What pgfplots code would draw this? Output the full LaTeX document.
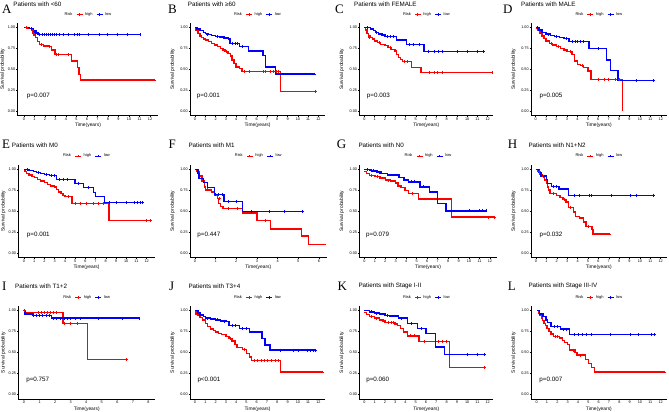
\documentclass[border=0pt]{standalone}
\usepackage{fontspec}
\setmainfont{Liberation Sans}
\newfontfamily\letterfont{Liberation Serif}
\usepackage{pgfplots}
\pgfplotsset{compat=1.18}
\pgfplotsset{
 kmy/.style={every axis y label/.style={at={(rel axis cs:0,0.5)}, xshift=#1, rotate=90, anchor=center, font=\fontsize{4.9}{5}\selectfont}},
 km/.style={
  scale only axis, height=92.5bp, ymin=-0.05, ymax=1.05, anchor=south west,
  axis x line*=bottom, axis y line*=left,
  axis line style={-, line width=0.55bp, black},
  ytick={0,0.25,0.5,0.75,1}, yticklabels={0.00,0.25,0.50,0.75,1.00},
  tick style={black, line width=0.45bp}, major tick length=1.5bp, tick align=outside,
  ticklabel style={font=\fontsize{3.8}{4}\selectfont, inner sep=0.6bp},
  /pgf/number format/assume math mode=true,
  xlabel={Time(years)}, ylabel={Survival probability},
  every axis x label/.style={at={(rel axis cs:0.5,0)}, anchor=center, yshift=-10bp, font=\fontsize{4.9}{5}\selectfont},
  kmy=-17.5bp,
  legend style={at={(0.5,1)}, anchor=center, yshift=8.8bp, draw=none, fill=none,
    font=\fontsize{4}{4}\selectfont, legend columns=-1, inner sep=0pt,
    /tikz/every even column/.append style={column sep=1.6bp}},
  legend image code/.code={\draw[mark repeat=2,mark phase=2,##1] plot coordinates {(0bp,0bp) (3bp,0bp) (6bp,0bp)};},
  clip=false,
 },
 hi/.style={red, line width=1.4bp, const plot, mark=none, forget plot},
 lo/.style={blue, line width=1.4bp, const plot, mark=none, forget plot},
 hic/.style={red, only marks, mark=+, mark size=1.4bp, mark options={line width=0.6bp}, forget plot},
 loc/.style={blue, only marks, mark=+, mark size=1.4bp, mark options={line width=0.6bp}, forget plot},
}
\newcommand{\kmlegend}{%
 \addlegendimage{empty legend}\addlegendentry{Risk}
 \addlegendimage{red,line width=1.1bp,mark=+,mark size=1.3bp}\addlegendentry{high}
 \addlegendimage{blue,line width=1.1bp,mark=+,mark size=1.3bp}\addlegendentry{low}}
\newcommand{\pval}[3]{\node[anchor=west, inner sep=0pt, font=\fontsize{6.3}{7}\selectfont] at (axis cs:#1,#2) {#3};}
\newcommand{\ttl}[3]{\node[anchor=west, inner sep=0pt, font=\fontsize{6.3}{7}\selectfont] at (#1bp,#2bp) {#3};}
\newcommand{\lett}[3]{\node[anchor=base west, inner sep=0pt, font=\letterfont\fontsize{13}{13}\selectfont] at (#1bp,#2bp) {#3};}
\begin{document}
\begin{tikzpicture}
\useasboundingbox (0bp,0bp) rectangle (669bp,412bp);
\lett{2}{398.5}{A}\ttl{13.3}{407.5}{Patients with <60}
\lett{168}{398.5}{B}\ttl{187.7}{407.5}{Patients with ≥60}
\lett{335}{398.5}{C}\ttl{354}{407.5}{Patients with FEMALE}
\lett{503}{398.5}{D}\ttl{521}{407.5}{Patients with MALE}
\lett{2}{263.5}{E}\ttl{11.7}{267}{Patients with M0}
\lett{168.3}{263.5}{F}\ttl{188.3}{267}{Patients with M1}
\lett{336.7}{263.5}{G}\ttl{358.3}{267}{Patients with N0}
\lett{507.7}{263.5}{H}\ttl{528.3}{267}{Patients with N1+N2}
\lett{2}{121.5}{I}\ttl{15}{126}{Patients with T1+2}
\lett{169}{121.5}{J}\ttl{188.3}{126}{Patients with T3+4}
\lett{337.3}{121.5}{K}\ttl{358.3}{126}{Patients with Stage I-II}
\lett{507.7}{121.5}{L}\ttl{528.3}{126}{Patients with Stage III-IV}

% A
\begin{axis}[km, kmy=-15bp, at={(17.5bp,296.3bp)}, width=140.9bp, xmin=-0.62, xmax=12.8, xtick={0,...,12}]
\kmlegend
\addplot[hi] coordinates {(0,1)(0.35,0.985)(0.7,0.965)(0.85,0.935)(0.95,0.91)(1.1,0.88)(1.3,0.83)(1.45,0.80)(1.85,0.78)(2.3,0.77)(2.6,0.73)(2.95,0.68)(4.55,0.60)(5.08,0.52)(5.22,0.44)(5.37,0.375)(12.4,0.375)};
\addplot[lo] coordinates {(0,1)(0.55,0.985)(0.9,0.955)(1.15,0.935)(1.35,0.915)(11.05,0.915)};
\addplot[hic] coordinates {(0.2,1)(0.8,0.965)(1.05,0.91)(1.6,0.80)(2.1,0.78)(2.4,0.77)(3.1,0.68)(3.3,0.68)(4.2,0.68)(5.8,0.375)(6.1,0.375)(6.6,0.375)(6.9,0.375)(7.1,0.375)(12.4,0.375)};
\addplot[loc] coordinates {(0.7,0.985)(1.0,0.955)(1.5,0.915)(1.7,0.915)(1.9,0.915)(2.1,0.915)(2.3,0.915)(2.5,0.915)(2.7,0.915)(2.9,0.915)(3.1,0.915)(3.4,0.915)(3.7,0.915)(4.2,0.915)(4.8,0.915)(5.1,0.915)(5.3,0.915)(6.1,0.915)(7.2,0.915)(7.9,0.915)(8.9,0.915)(9.8,0.915)(11.05,0.915)};
\pval{0.26}{0.19}{p=0.007}
\end{axis}
% B
\begin{axis}[km, at={(190bp,296.3bp)}, width=135.1bp, xmin=-0.49, xmax=12.65, xtick={0,...,12}]
\kmlegend
\addplot[hi] coordinates {(0,0.985)(0.1,0.96)(0.3,0.93)(0.5,0.90)(0.65,0.88)(0.8,0.86)(1.0,0.85)(1.3,0.83)(1.6,0.81)(1.9,0.79)(2.2,0.77)(2.5,0.75)(2.7,0.73)(2.9,0.71)(3.2,0.69)(3.45,0.66)(3.6,0.61)(3.8,0.57)(4.0,0.53)(4.3,0.51)(4.55,0.475)(8.3,0.24)(11.7,0.24)};
\addplot[lo] coordinates {(0,1)(0.2,0.98)(0.5,0.96)(0.8,0.94)(1.0,0.925)(1.3,0.915)(1.6,0.905)(2.0,0.895)(2.4,0.885)(2.8,0.875)(3.1,0.865)(3.4,0.81)(4.3,0.77)(5.2,0.72)(6.6,0.665)(6.85,0.53)(7.85,0.445)(11.6,0.445)};
\addplot[hic] coordinates {(1.2,0.85)(2.0,0.79)(3.0,0.71)(4.8,0.475)(5.3,0.475)(6.6,0.475)(6.8,0.475)(7.3,0.475)(7.6,0.475)(7.9,0.475)(8.1,0.475)(11.7,0.24)};
\addplot[loc] coordinates {(1.2,0.915)(2.2,0.895)(2.6,0.885)(3.2,0.865)(3.6,0.81)(3.9,0.81)(4.1,0.81)(4.6,0.77)(5.6,0.72)(6.3,0.72)(7.5,0.53)(10,0.445)(10.8,0.445)(11.2,0.445)(11.6,0.445)};
\pval{0.16}{0.19}{p=0.001}
\end{axis}
% C
\begin{axis}[km, at={(359.3bp,296.3bp)}, width=134.05bp, xmin=-0.49, xmax=12.55, xtick={0,...,12}]
\kmlegend
\addplot[hi] coordinates {(0,1)(0.1,0.97)(0.25,0.93)(0.4,0.90)(0.55,0.88)(0.8,0.86)(1.0,0.84)(1.3,0.82)(1.6,0.80)(2.0,0.785)(2.3,0.76)(2.6,0.74)(3.0,0.72)(3.1,0.68)(3.3,0.64)(3.5,0.62)(3.7,0.595)(4.6,0.525)(5.5,0.465)(12.4,0.465)};
\addplot[lo] coordinates {(0,1)(0.6,0.98)(0.9,0.96)(1.1,0.94)(1.4,0.92)(1.7,0.91)(2.0,0.895)(3.1,0.85)(4.1,0.80)(5.8,0.715)(11.6,0.715)};
\addplot[hic] coordinates {(0.5,0.88)(1.5,0.82)(2.5,0.76)(3.9,0.595)(4.2,0.595)(6.3,0.465)(6.8,0.465)(7.1,0.465)(7.6,0.465)(12.4,0.465)};
\addplot[loc] coordinates {(0.3,1)(1.2,0.94)(2.2,0.895)(2.5,0.895)(2.8,0.895)(3.4,0.85)(3.7,0.85)(4.4,0.80)(4.8,0.80)(5.3,0.80)(6.2,0.715)(6.8,0.715)(7.2,0.715)(7.6,0.715)(9,0.715)(10,0.715)(11,0.715)(11.6,0.715)};
\pval{0.23}{0.19}{p=0.003}
\end{axis}
% D
\begin{axis}[km, at={(531bp,296.3bp)}, width=135.7bp, xmin=-0.45, xmax=12.57, xtick={0,...,12}]
\kmlegend
\addplot[hi] coordinates {(0,0.985)(0.2,0.96)(0.4,0.93)(0.6,0.90)(0.8,0.87)(1.0,0.84)(1.3,0.81)(1.6,0.79)(2.0,0.77)(2.4,0.75)(2.7,0.73)(3.0,0.71)(3.5,0.68)(3.7,0.60)(4.0,0.56)(4.3,0.545)(4.6,0.52)(5.0,0.48)(5.3,0.38)(8.3,0)};
\addplot[lo] coordinates {(0,1)(0.3,0.97)(0.6,0.94)(1.0,0.92)(1.4,0.905)(1.8,0.895)(2.3,0.88)(2.7,0.87)(3.2,0.83)(5.1,0.75)(6.8,0.61)(7.2,0.49)(7.9,0.37)(11.3,0.37)};
\addplot[hic] coordinates {(1.5,0.81)(2.2,0.77)(3.3,0.71)(4.5,0.545)(6.0,0.38)(6.6,0.38)(7.0,0.38)(7.6,0.38)(8.0,0.38)};
\addplot[loc] coordinates {(0.2,1)(1.2,0.92)(2.0,0.895)(2.9,0.87)(3.5,0.83)(3.8,0.83)(4.0,0.83)(4.3,0.83)(4.6,0.83)(6.0,0.75)(9.7,0.37)(11.3,0.37)};
\pval{0.35}{0.19}{p=0.005}
\end{axis}
% E
\begin{axis}[km, kmy=-15bp, at={(18.3bp,154.5bp)}, width=136.5bp, xmin=-0.56, xmax=12.8, xtick={0,...,12}]
\kmlegend
\addplot[hi] coordinates {(0,1)(0.1,0.97)(0.25,0.95)(0.5,0.93)(0.8,0.91)(1.0,0.90)(1.3,0.88)(1.6,0.86)(2.0,0.84)(2.3,0.82)(2.6,0.80)(3.0,0.79)(3.2,0.76)(3.4,0.73)(3.6,0.71)(3.8,0.69)(4.0,0.675)(4.7,0.595)(8.3,0.39)(12.4,0.39)};
\addplot[lo] coordinates {(0,1)(0.5,0.985)(0.9,0.97)(1.2,0.96)(1.6,0.95)(2.0,0.935)(2.5,0.925)(3.2,0.875)(5.0,0.83)(5.8,0.78)(6.8,0.72)(7.0,0.675)(7.9,0.605)(11.6,0.605)};
\addplot[hic] coordinates {(0.6,0.93)(1.8,0.86)(2.8,0.80)(4.3,0.675)(5.0,0.595)(5.5,0.595)(6.1,0.595)(6.8,0.595)(7.3,0.595)(7.8,0.595)(12,0.39)(12.4,0.39)};
\addplot[loc] coordinates {(0.3,1)(1.4,0.96)(2.2,0.935)(2.7,0.925)(3.0,0.925)(3.5,0.875)(3.8,0.875)(4.2,0.875)(5.3,0.83)(6.3,0.78)(8.3,0.605)(9.0,0.605)(10,0.605)(10.8,0.605)(11.1,0.605)(11.4,0.605)(11.6,0.605)};
\pval{0.26}{0.22}{p=0.001}
\end{axis}
% F
\begin{axis}[km, at={(190bp,154.5bp)}, width=136.6bp, xmin=-0.24, xmax=6.37, xtick={0,...,6}]
\kmlegend
\addplot[hi] coordinates {(0,1)(0.1,0.97)(0.2,0.92)(0.35,0.86)(0.45,0.79)(0.5,0.755)(0.8,0.73)(0.95,0.69)(1.1,0.65)(1.15,0.59)(1.25,0.56)(1.35,0.535)(2.3,0.48)(3.0,0.39)(3.65,0.29)(5.15,0.205)(5.5,0.105)(6.35,0.105)};
\addplot[lo] coordinates {(0,1)(0.15,0.95)(0.2,0.89)(0.4,0.84)(0.6,0.78)(0.95,0.70)(1.4,0.615)(2.3,0.495)(5.2,0.495)};
\addplot[hic] coordinates {(0.3,0.92)(0.6,0.755)(1.2,0.65)(1.6,0.535)(2.05,0.535)(3.4,0.39)};
\addplot[loc] coordinates {(1.0,0.70)(1.15,0.70)(1.3,0.70)(1.6,0.615)(2.0,0.615)(2.75,0.495)(3.6,0.495)(4.3,0.495)(5.2,0.495)};
\pval{0.11}{0.22}{p=0.447}
\end{axis}
% G
\begin{axis}[km, at={(359.3bp,154.5bp)}, width=137.5bp, xmin=-0.48, xmax=12.65, xtick={0,...,12}]
\kmlegend
\addplot[hi] coordinates {(0,0.975)(0.2,0.95)(0.5,0.925)(1.0,0.91)(1.5,0.895)(2.0,0.87)(2.5,0.86)(3.0,0.835)(3.2,0.80)(3.5,0.78)(3.9,0.745)(4.2,0.71)(5.2,0.645)(8.3,0.43)(12.4,0.43)};
\addplot[lo] coordinates {(0,1)(0.5,0.99)(0.7,0.98)(1.2,0.965)(1.6,0.95)(2.2,0.93)(3.3,0.90)(3.8,0.87)(4.2,0.85)(5.3,0.79)(6.2,0.73)(7.0,0.59)(7.8,0.505)(11.6,0.505)};
\addplot[hic] coordinates {(0.7,0.925)(1.2,0.91)(2.3,0.87)(3.3,0.80)(4.6,0.71)(5.7,0.645)(6.3,0.645)(6.8,0.645)(7.5,0.645)(7.8,0.645)(8.1,0.645)(11.8,0.43)(12.4,0.43)};
\addplot[loc] coordinates {(0.3,1)(0.9,0.98)(1.4,0.965)(2.5,0.93)(2.8,0.93)(3.0,0.93)(3.1,0.93)(4.5,0.85)(4.8,0.85)(5.6,0.79)(6.5,0.73)(10,0.505)(11,0.505)(11.3,0.505)(11.6,0.505)};
\pval{0.16}{0.22}{p=0.079}
\end{axis}
% H
\begin{axis}[km, at={(531bp,154.5bp)}, width=135.7bp, xmin=-0.48, xmax=12.58, xtick={0,...,12}]
\kmlegend
\addplot[hi] coordinates {(0,1)(0.2,0.97)(0.4,0.94)(0.6,0.91)(0.8,0.87)(1.0,0.83)(1.1,0.79)(1.2,0.755)(1.35,0.71)(2.0,0.69)(2.3,0.665)(2.6,0.64)(2.9,0.61)(3.1,0.545)(3.6,0.49)(3.8,0.44)(4.2,0.42)(4.6,0.37)(4.8,0.32)(5.4,0.28)(5.5,0.23)(7.1,0.23)};
\addplot[lo] coordinates {(0,1)(0.3,0.96)(0.5,0.92)(1.0,0.88)(1.1,0.83)(1.5,0.795)(2.2,0.765)(3.15,0.69)(11.3,0.69)};
\addplot[hic] coordinates {(0.3,0.97)(0.7,0.91)(1.7,0.71)(2.7,0.64)(3.3,0.545)(5.0,0.32)(6.3,0.23)(6.7,0.23)(7.1,0.23)};
\addplot[loc] coordinates {(0.8,0.92)(1.7,0.795)(2.0,0.795)(2.5,0.765)(2.9,0.765)(3.7,0.69)(4.2,0.69)(5.1,0.69)(5.3,0.69)(7.2,0.69)(9.1,0.69)(9.7,0.69)(11.3,0.69)};
\pval{0.32}{0.22}{p=0.032}
\end{axis}
% I
\begin{axis}[km, kmy=-15bp, at={(18.3bp,13.1bp)}, width=136.8bp, xmin=-0.37, xmax=8.43, xtick={0,...,8}]
\kmlegend
\addplot[hi] coordinates {(0,1)(0.05,0.975)(2.5,0.85)(4.1,0.42)(6.6,0.42)};
\addplot[lo] coordinates {(0,1)(0.05,0.96)(0.6,0.945)(1.75,0.91)(7.4,0.91)};
\addplot[hic] coordinates {(0.02,1)(0.9,0.975)(1.1,0.975)(1.3,0.975)(1.5,0.975)(1.7,0.975)(1.9,0.975)(2.1,0.975)(2.6,0.85)(3.0,0.85)(3.4,0.85)(6.6,0.42)};
\addplot[loc] coordinates {(0.6,0.945)(0.8,0.945)(1.0,0.945)(1.2,0.945)(1.4,0.945)(1.6,0.945)(1.9,0.91)(2.1,0.91)(2.3,0.91)(2.6,0.91)(2.8,0.91)(3.0,0.91)(3.3,0.91)(3.6,0.91)(4.8,0.91)(6.3,0.91)(7.4,0.91)};
\pval{0.13}{0.18}{p=0.757}
\end{axis}
% J
\begin{axis}[km, at={(190bp,13.1bp)}, width=135.1bp, xmin=-0.49, xmax=12.65, xtick={0,...,12}]
\kmlegend
\addplot[hi] coordinates {(0,0.985)(0.1,0.96)(0.3,0.94)(0.5,0.92)(0.7,0.89)(1.0,0.85)(1.2,0.81)(1.5,0.78)(1.8,0.76)(2.0,0.745)(2.3,0.73)(2.6,0.715)(3.0,0.69)(3.3,0.67)(3.6,0.64)(3.9,0.60)(4.1,0.56)(4.6,0.54)(5.0,0.49)(5.3,0.45)(5.5,0.405)(8.3,0.27)(12.4,0.27)};
\addplot[lo] coordinates {(0,1)(0.3,0.97)(0.5,0.95)(0.8,0.93)(1.0,0.91)(1.5,0.90)(2.0,0.89)(2.5,0.875)(3.0,0.87)(3.3,0.82)(4.3,0.79)(5.3,0.745)(6.5,0.67)(6.8,0.59)(7.3,0.53)(11.7,0.53)};
\addplot[hic] coordinates {(3.4,0.67)(4.8,0.54)(5.8,0.405)(6.1,0.405)(6.4,0.405)(6.7,0.405)(7.0,0.405)(7.4,0.405)(7.8,0.405)(8.1,0.405)(12,0.27)(12.4,0.27)};
\addplot[loc] coordinates {(1.2,0.91)(2.2,0.89)(2.8,0.875)(3.6,0.82)(3.9,0.82)(4.6,0.79)(5.0,0.79)(5.6,0.745)(8.3,0.53)(9.6,0.53)(10.0,0.53)(10.9,0.53)(11.2,0.53)(11.5,0.53)(11.7,0.53)};
\pval{0.22}{0.18}{p<0.001}
\end{axis}
% K
\begin{axis}[km, at={(359.3bp,13.1bp)}, width=134.05bp, xmin=-0.49, xmax=12.55, xtick={0,...,12}]
\kmlegend
\addplot[hi] coordinates {(0,0.975)(0.2,0.955)(0.5,0.93)(1.0,0.91)(1.5,0.89)(1.8,0.875)(2.0,0.86)(3.0,0.84)(3.2,0.82)(3.5,0.79)(3.8,0.745)(4.2,0.70)(5.3,0.635)(8.3,0.325)(11.7,0.325)};
\addplot[lo] coordinates {(0,1)(0.5,0.985)(1.0,0.97)(1.5,0.96)(2.0,0.945)(2.5,0.935)(3.3,0.91)(4.2,0.85)(5.2,0.79)(6.0,0.73)(6.9,0.565)(7.8,0.475)(11.7,0.475)};
\addplot[hic] coordinates {(0.7,0.93)(1.2,0.91)(2.3,0.86)(2.6,0.86)(2.8,0.86)(4.5,0.70)(4.9,0.70)(5.8,0.635)(7.2,0.635)(7.6,0.635)(8.0,0.635)(11.7,0.325)};
\addplot[loc] coordinates {(0.7,0.985)(1.2,0.97)(1.7,0.96)(2.2,0.945)(2.7,0.935)(3.0,0.935)(3.6,0.91)(4.6,0.85)(5.5,0.79)(10,0.475)(11,0.475)(11.7,0.475)};
\pval{0.17}{0.18}{p=0.060}
\end{axis}
% L
\begin{axis}[km, at={(531bp,13.1bp)}, width=135.8bp, xmin=-0.55, xmax=12.6, xtick={0,...,12}]
\kmlegend
\addplot[hi] coordinates {(0,1)(0.15,0.97)(0.3,0.95)(0.45,0.91)(0.55,0.88)(0.7,0.85)(0.85,0.82)(1.0,0.79)(1.2,0.755)(1.4,0.72)(1.6,0.695)(2.2,0.675)(2.5,0.645)(2.7,0.62)(3.0,0.595)(3.2,0.53)(3.7,0.505)(3.9,0.47)(4.7,0.42)(5.0,0.37)(5.3,0.32)(5.6,0.27)(12.4,0.27)};
\addplot[lo] coordinates {(0,1)(0.3,0.96)(0.6,0.93)(0.9,0.89)(1.05,0.86)(1.4,0.81)(2.3,0.78)(3.15,0.715)(11.4,0.715)};
\addplot[hic] coordinates {(1.8,0.695)(2.0,0.695)(3.5,0.53)(4.2,0.47)(6.1,0.27)(6.9,0.27)(7.1,0.27)(12.4,0.27)};
\addplot[loc] coordinates {(0.4,0.96)(1.7,0.81)(2.0,0.81)(2.6,0.78)(2.9,0.78)(3.6,0.715)(4.0,0.715)(4.4,0.715)(4.8,0.715)(5.3,0.715)(7.1,0.715)(9.1,0.715)(9.8,0.715)(11.1,0.715)(11.4,0.715)};
\pval{0.25}{0.18}{p=0.007}
\end{axis}
\end{tikzpicture}
\end{document}
